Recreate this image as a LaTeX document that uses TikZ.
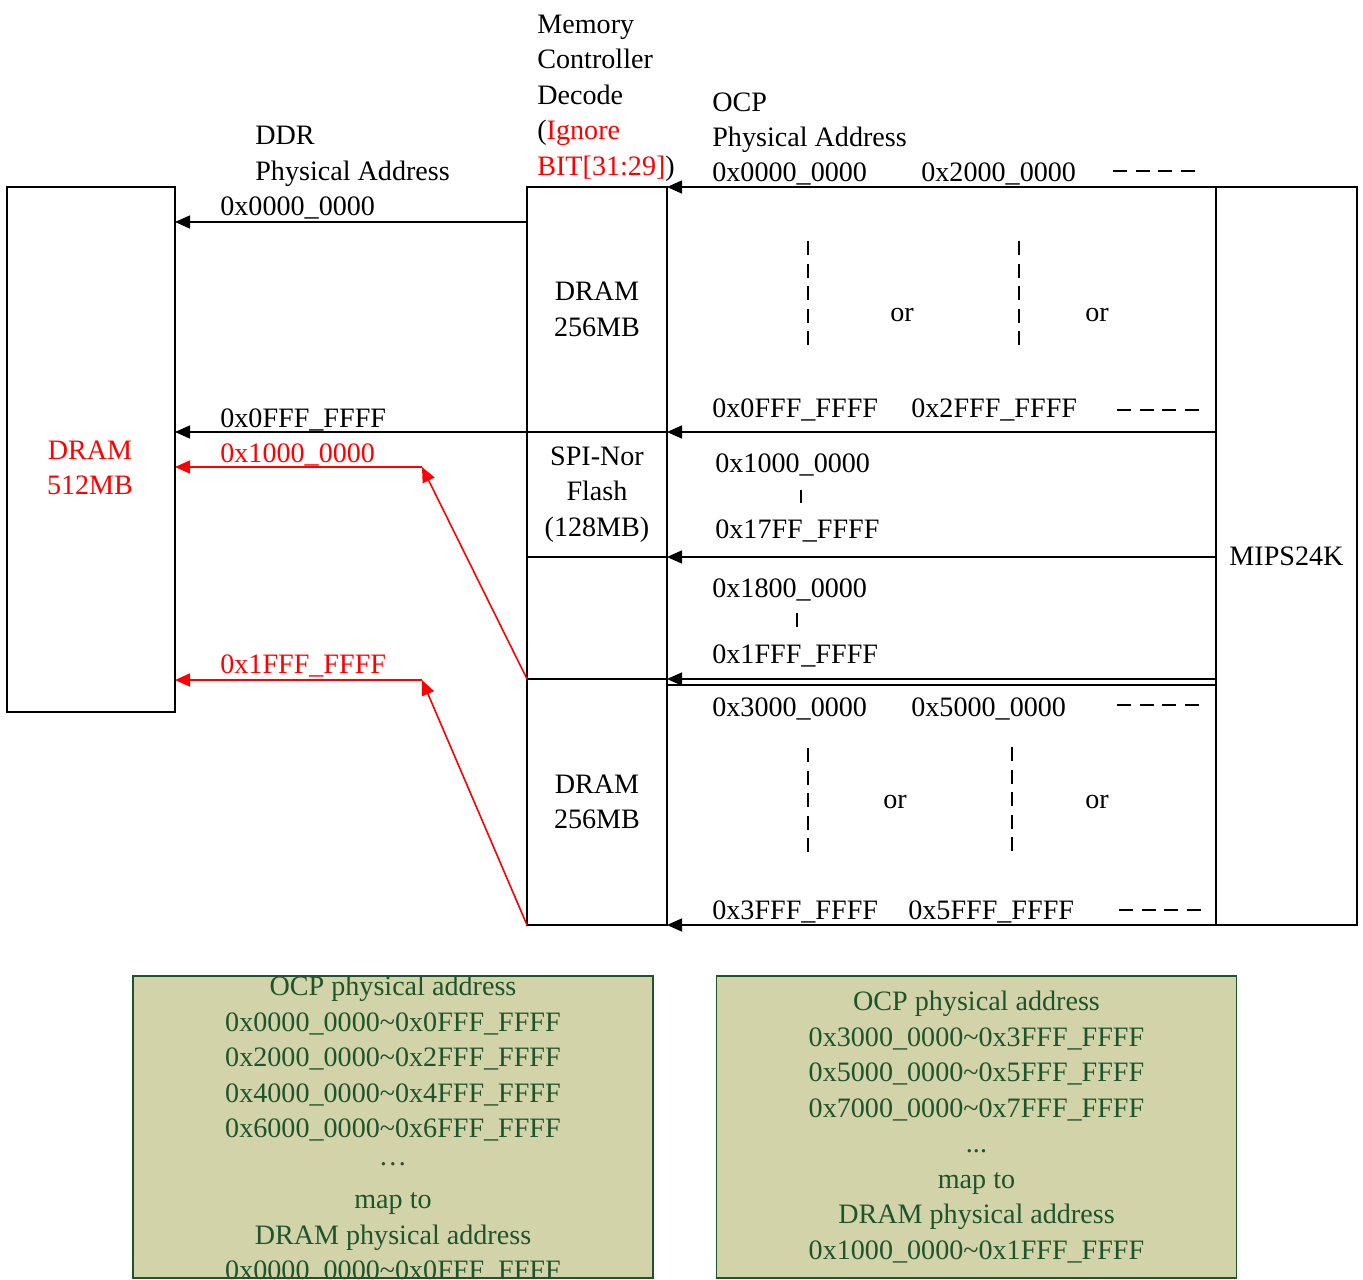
\documentclass[tikz,border=0pt]{standalone}
\usepackage{fontspec}
\setmainfont{Liberation Serif}
\usetikzlibrary{arrows.meta,positioning}

\definecolor{mapfill}{RGB}{211,211,170}
\definecolor{maptext}{RGB}{30,84,44}

\begin{document}
\begin{tikzpicture}[
  x=0.2mm, y=-0.2mm,
  font=\fontsize{16}{20.2}\selectfont,
  block/.style={draw, line width=0.9pt, inner sep=0pt, outer sep=0pt, align=center, minimum width=2.8cm},
  addr/.style={anchor=base west, inner sep=0pt},
  arr/.style={-{Triangle[length=3mm, width=2.6mm]}, line width=0.9pt},
  redarr/.style={arr, red},
  dashline/.style={line width=0.9pt, dash pattern=on 2.8mm off 1.72mm},
  tick/.style={line width=0.9pt},
  mapbox/.style={draw=maptext, fill=mapfill, line width=0.9pt, minimum width=10.4cm, minimum height=6.04cm},
  maptxt/.style={text=maptext, align=center, inner sep=0pt}
]
\useasboundingbox (0,0) rectangle (1363,1279);

\node[block, minimum width=3.36cm, minimum height=10.5cm] (dram) at (91,449.5) {};
\node[text=red, align=center, inner sep=0pt] (dramlbl) at (90,468) {DRAM\\512MB};

\node[block, minimum height=4.9cm] (dramA) at (597,309.5) {DRAM\\256MB};
\node[block, minimum height=2.5cm, below=0pt of dramA] (spi) {SPI-Nor\\Flash\\(128MB)};
\node[block, minimum height=2.44cm, below=0pt of spi] (hole) {};
\node[block, minimum height=4.92cm, below=0pt of hole] (dramB) {DRAM\\256MB};

\node[block, minimum width=2.82cm, minimum height=14.76cm] (mips) at (1286.5,556) {MIPS24K};

\node[addr, align=left] (ddr) at (255,180) {DDR\\Physical Address};
\node[addr, align=left] (mcd) at (537,175) {Memory\\Controller\\Decode\\({\color{red}Ignore}\\{\color{red}BIT[31:29]})};
\node[addr, align=left] (ocp) at (712,147) {OCP\\Physical Address};

\draw[arr] (dramA.west |- 0,222) -- (dram.east |- 0,222);
\draw[arr] (spi.north west) -- (spi.north west -| dram.east);
\coordinate (bendA) at (422,467);
\coordinate (bendB) at (422,680);
\draw[redarr] (hole.south west) -- (bendA);
\draw[redarr] (bendA) -- (bendA -| dram.east);
\draw[redarr] (dramB.south west) -- (bendB);
\draw[redarr] (bendB) -- (bendB -| dram.east);

\node[addr] (lowA) at (220,215) {0x0000\_0000};
\node[addr] (highA) at (220,427) {0x0FFF\_FFFF};
\node[addr, text=red] (lowB) at (220,462) {0x1000\_0000};
\node[addr, text=red] (highB) at (220,673) {0x1FFF\_FFFF};

\draw[arr] (mips.north west) -- (dramA.north east);
\draw[arr] (mips.west |- spi.north east) -- (spi.north east);
\draw[arr] (mips.west |- hole.north east) -- (hole.north east);
\draw[arr] (mips.west |- hole.south east) -- (hole.south east);
\draw[line width=0.9pt] ([yshift=-1.2mm]hole.south east) -- ([yshift=-1.2mm]hole.south east -| mips.west);
\draw[arr] (mips.south west) -- (dramB.south east);

\node[addr] (ocpA) at (712,181) {0x0000\_0000};
\node[addr] (ocpB) at (921,181) {0x2000\_0000};
\draw[dashline] (1113,171) -- (1196,171);
\draw[dashline] (808,241) -- (808,345);
\draw[dashline] (1019,241) -- (1019,345);
\node[addr] (orA) at (890,321) {or};
\node[addr] (orB) at (1085,321) {or};
\node[addr] (ocpC) at (712,417) {0x0FFF\_FFFF};
\node[addr] (ocpD) at (911,417) {0x2FFF\_FFFF};
\draw[dashline] (1117,410) -- (1200,410);

\node[addr] (ocpE) at (715,472) {0x1000\_0000};
\draw[tick] (801,490) -- (801,503);
\node[addr] (ocpF) at (715,538) {0x17FF\_FFFF};
\node[addr] (ocpG) at (712,597) {0x1800\_0000};
\draw[tick] (797,613) -- (797,627);
\node[addr] (ocpH) at (712,663) {0x1FFF\_FFFF};

\node[addr] (ocpI) at (712,716) {0x3000\_0000};
\node[addr] (ocpJ) at (911,716) {0x5000\_0000};
\draw[dashline] (1117,705) -- (1200,705);
\draw[dashline] (808,748) -- (808,852);
\draw[dashline] (1012,747) -- (1012,851);
\node[addr] (orC) at (883,808) {or};
\node[addr] (orD) at (1085,808) {or};
\node[addr] (ocpK) at (712,919) {0x3FFF\_FFFF};
\node[addr] (ocpL) at (908,919) {0x5FFF\_FFFF};
\draw[dashline] (1119,910) -- (1202,910);

\node[mapbox] (mapA) at (393,1127) {};
\node[maptxt] (mapAtxt) at ([yshift=-0.6mm]mapA.center) {OCP physical address\\0x0000\_0000\textasciitilde{}0x0FFF\_FFFF\\0x2000\_0000\textasciitilde{}0x2FFF\_FFFF\\0x4000\_0000\textasciitilde{}0x4FFF\_FFFF\\0x6000\_0000\textasciitilde{}0x6FFF\_FFFF\\\raisebox{0.3em}{…}\\map to\\DRAM physical address\\0x0000\_0000\textasciitilde{}0x0FFF\_FFFF};
\node[mapbox] (mapB) at (976.5,1127) {};
\node[maptxt] (mapBtxt) at (mapB.center) {OCP physical address\\0x3000\_0000\textasciitilde{}0x3FFF\_FFFF\\0x5000\_0000\textasciitilde{}0x5FFF\_FFFF\\0x7000\_0000\textasciitilde{}0x7FFF\_FFFF\\...\\map to\\DRAM physical address\\0x1000\_0000\textasciitilde{}0x1FFF\_FFFF};
\end{tikzpicture}
\end{document}
